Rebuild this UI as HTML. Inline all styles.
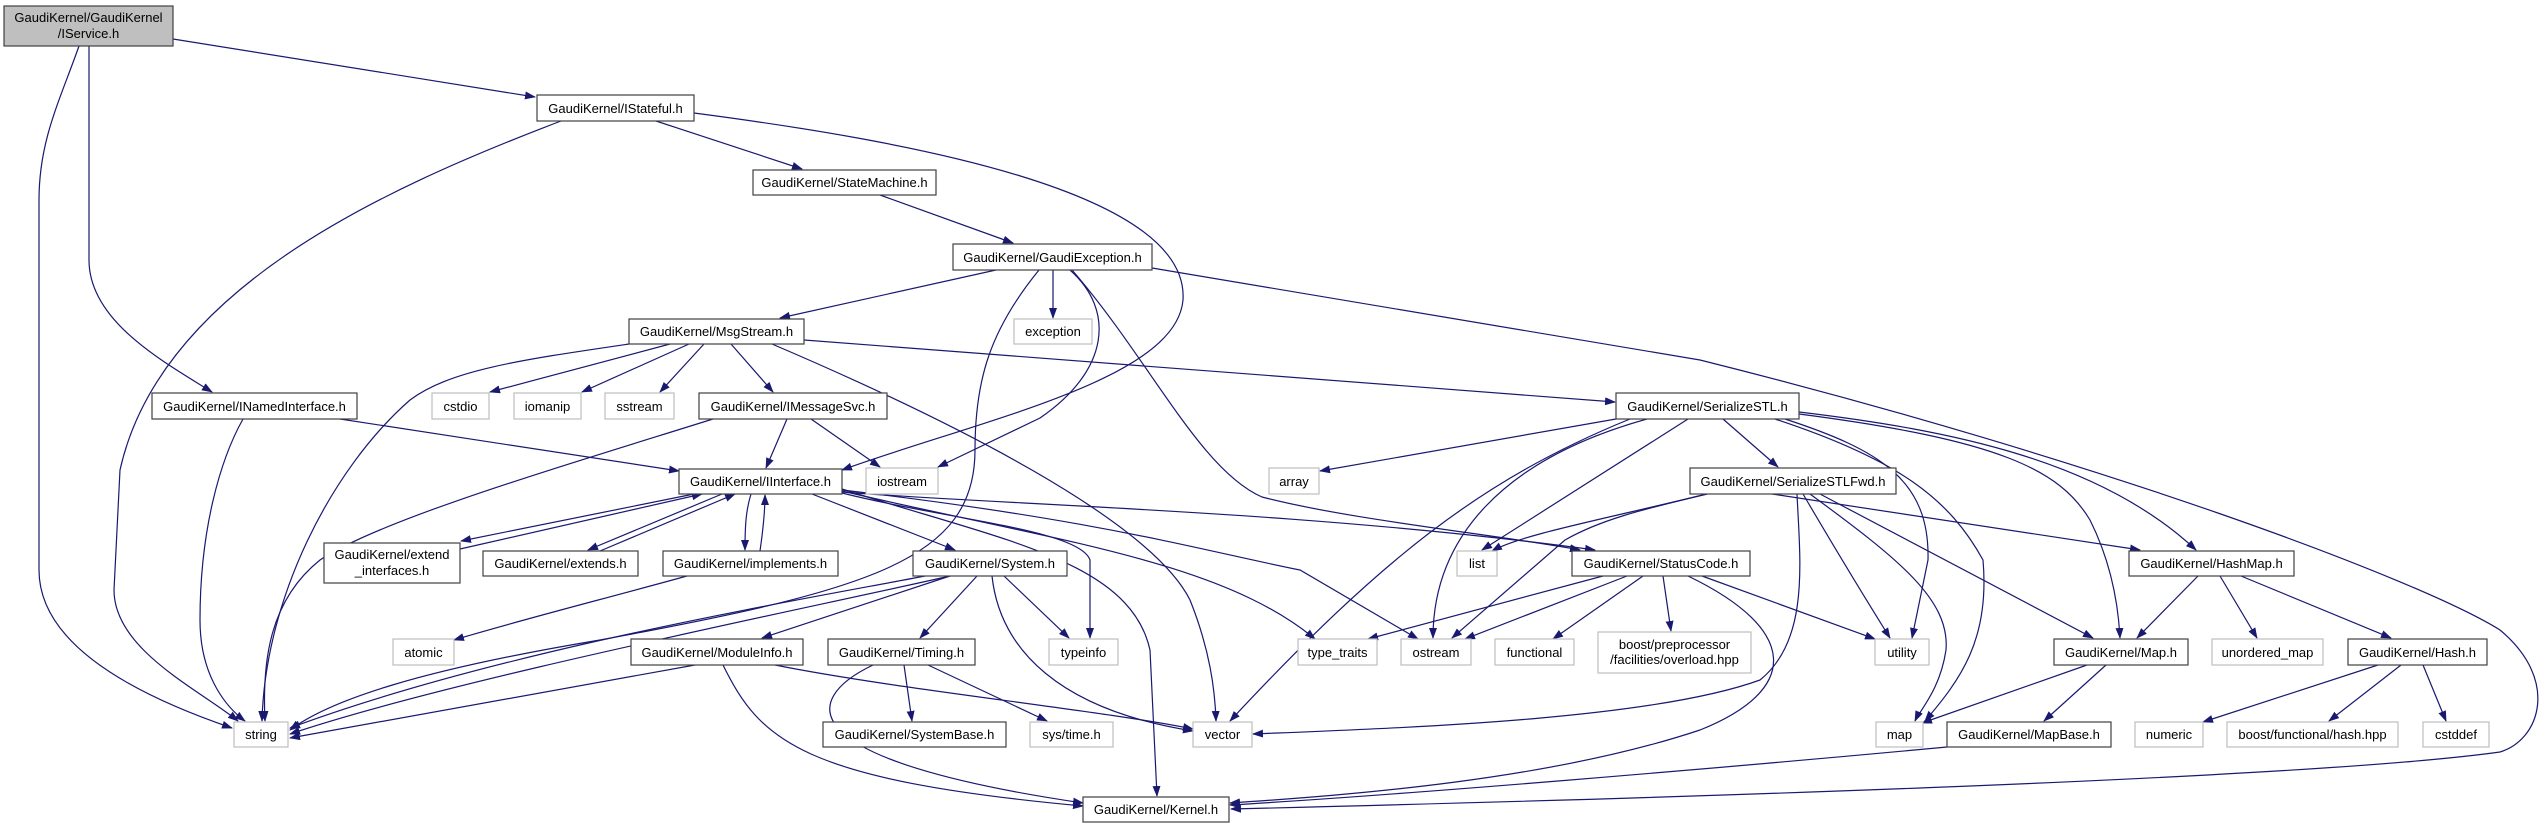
<!DOCTYPE html>
<html><head><meta charset="utf-8"><style>
html,body{margin:0;padding:0;background:#fff;}
svg{display:block;}
text{font-family:"Liberation Sans",sans-serif;font-size:13px;fill:#000;text-anchor:middle;}
.n{fill:#fff;stroke:#404040;stroke-width:1.2;}
.x{fill:#fff;stroke:#bfbfbf;stroke-width:1.2;}
.e{fill:none;stroke:#191970;stroke-width:1.2;}
</style></head><body>
<svg width="2542" height="828" viewBox="0 0 2542 828" xmlns="http://www.w3.org/2000/svg">
<defs><marker id="a" markerUnits="userSpaceOnUse" markerWidth="11" markerHeight="8" refX="10" refY="4" orient="auto"><path d="M0,0 L11,4 L0,8 z" fill="#191970"/></marker></defs>
<g class="e" marker-end="url(#a)">
<path d="M173,39 L535,97"/>
<path d="M89,46 L89,260 C89,320 160,360 212,392"/>
<path d="M79,46 C60,100 39,140 39,200 L39,570 C39,650 150,700 232,728"/>
<path d="M561,121 C380,190 160,290 120,470 L114,590 C114,650 200,690 238,721"/>
<path d="M656,121 L802,169"/>
<path d="M694,113 C900,140 1190,190 1183,300 C1176,380 980,420 842,470"/>
<path d="M880,195 L1013,243"/>
<path d="M996,270 L780,318"/>
<path d="M1053,270 L1053,318"/>
<path d="M1070,270 C1115,310 1110,370 1040,418 L938,467"/>
<path d="M1039,270 C990,330 975,380 975,450 C975,560 870,590 600,640 C420,670 330,700 290,730"/>
<path d="M1072,270 C1150,360 1200,470 1262,497 C1350,520 1500,535 1580,550"/>
<path d="M1152,268 L1700,360 C2100,460 2420,580 2500,630 C2560,680 2540,740 2500,752 C2300,780 1600,800 1231,809"/>
<path d="M629,344 C520,360 450,370 410,400 C330,470 265,600 262,721"/>
<path d="M670,344 L490,392"/>
<path d="M689,344 L582,392"/>
<path d="M704,344 L660,392"/>
<path d="M731,344 L773,392"/>
<path d="M772,344 C950,420 1150,520 1190,600 C1210,650 1215,690 1216,721"/>
<path d="M804,340 L1615,402"/>
<path d="M713,419 C550,470 380,520 320,560 C270,600 262,660 265,721"/>
<path d="M787,419 L766,468"/>
<path d="M811,419 L880,467"/>
<path d="M243,419 C220,460 200,530 200,620 C200,680 230,710 245,721"/>
<path d="M340,419 L679,471"/>
<path d="M694,494 L461,541"/>
<path d="M460,549 L702,494"/>
<path d="M722,494 L588,550"/>
<path d="M600,551 L735,494"/>
<path d="M751,494 C746,510 745,525 745,550"/>
<path d="M760,551 C763,530 765,510 765,495"/>
<path d="M687,576 C600,600 520,620 454,640"/>
<path d="M812,494 L955,550"/>
<path d="M842,493 C950,520 1080,530 1090,560 L1090,638"/>
<path d="M842,491 C1050,540 1220,560 1315,639"/>
<path d="M842,490 C1100,520 1200,550 1300,570 L1418,639"/>
<path d="M842,489 C1000,540 1130,560 1150,650 L1157,796"/>
<path d="M842,492 C1000,505 1300,510 1595,550"/>
<path d="M925,576 C800,600 500,650 290,728"/>
<path d="M950,576 C800,610 450,680 290,734"/>
<path d="M950,576 L762,638"/>
<path d="M977,576 L920,638"/>
<path d="M1004,576 L1069,638"/>
<path d="M992,576 C1000,650 1060,710 1193,731"/>
<path d="M695,665 L290,738"/>
<path d="M723,665 C760,740 800,780 1083,806"/>
<path d="M775,665 C900,690 1100,710 1193,729"/>
<path d="M873,665 C800,700 790,760 1083,803"/>
<path d="M904,665 L912,721"/>
<path d="M928,665 L1047,721"/>
<path d="M1616,419 L1320,471"/>
<path d="M1723,419 L1778,467"/>
<path d="M1688,419 L1482,550"/>
<path d="M1647,419 C1500,460 1433,540 1433,638"/>
<path d="M1630,419 C1480,480 1380,560 1230,721"/>
<path d="M1785,419 C1880,450 1930,480 1928,560 L1912,638"/>
<path d="M1775,419 C1900,460 1950,500 1983,560 C1990,640 1960,680 1925,721"/>
<path d="M1799,414 C2000,440 2060,470 2090,520 C2110,560 2118,600 2120,638"/>
<path d="M1799,412 C1950,430 2100,460 2196,550"/>
<path d="M1707,494 C1600,520 1520,535 1492,551"/>
<path d="M1707,494 C1640,510 1600,520 1565,540 L1452,638"/>
<path d="M1797,494 C1800,560 1810,640 1760,680 C1650,720 1400,728 1253,734"/>
<path d="M1803,494 C1830,540 1860,590 1890,638"/>
<path d="M1810,494 C1900,560 1950,600 1946,650 C1940,690 1920,710 1915,721"/>
<path d="M1820,494 L2093,638"/>
<path d="M1772,494 L2140,550"/>
<path d="M1603,576 L1368,639"/>
<path d="M1627,576 L1465,639"/>
<path d="M1643,576 L1553,639"/>
<path d="M1663,576 L1671,631"/>
<path d="M1702,576 L1875,639"/>
<path d="M1688,576 C1800,630 1800,690 1700,730 C1550,780 1350,795 1230,803"/>
<path d="M2198,576 L2137,638"/>
<path d="M2220,576 L2257,638"/>
<path d="M2241,576 L2391,638"/>
<path d="M2087,665 L1922,723"/>
<path d="M2106,665 L2044,721"/>
<path d="M1947,747 C1700,770 1400,795 1230,805"/>
<path d="M2378,665 L2203,722"/>
<path d="M2401,665 L2329,721"/>
<path d="M2423,665 L2446,721"/>
</g>
<rect x="4" y="6" width="169" height="40" style="fill:#bfbfbf;stroke:#404040;stroke-width:1.2"/>
<text x="88.5" y="22">GaudiKernel/GaudiKernel</text><text x="88.5" y="38">/IService.h</text>
<rect class="n" x="537" y="95" width="157" height="26"/><text x="615.5" y="113">GaudiKernel/IStateful.h</text>
<rect class="n" x="753" y="170" width="183" height="25"/><text x="844.5" y="187">GaudiKernel/StateMachine.h</text>
<rect class="n" x="953" y="244" width="199" height="26"/><text x="1052.5" y="262">GaudiKernel/GaudiException.h</text>
<rect class="n" x="629" y="319" width="175" height="25"/><text x="716.5" y="336">GaudiKernel/MsgStream.h</text>
<rect class="x" x="1014" y="319" width="78" height="25"/><text x="1053" y="336">exception</text>
<rect class="n" x="152" y="393" width="205" height="26"/><text x="254.5" y="411">GaudiKernel/INamedInterface.h</text>
<rect class="x" x="432" y="393" width="57" height="26"/><text x="460.5" y="411">cstdio</text>
<rect class="x" x="514" y="393" width="67" height="26"/><text x="547.5" y="411">iomanip</text>
<rect class="x" x="605" y="393" width="69" height="26"/><text x="639.5" y="411">sstream</text>
<rect class="n" x="699" y="393" width="188" height="26"/><text x="793" y="411">GaudiKernel/IMessageSvc.h</text>
<rect class="n" x="1616" y="393" width="183" height="26"/><text x="1707.5" y="411">GaudiKernel/SerializeSTL.h</text>
<rect class="n" x="679" y="469" width="163" height="25"/><text x="760.5" y="486">GaudiKernel/IInterface.h</text>
<rect class="x" x="866" y="468" width="72" height="26"/><text x="902" y="486">iostream</text>
<rect class="x" x="1269" y="468" width="50" height="26"/><text x="1294" y="486">array</text>
<rect class="n" x="1690" y="468" width="206" height="26"/><text x="1793" y="486">GaudiKernel/SerializeSTLFwd.h</text>
<rect class="n" x="324" y="543" width="136" height="40"/><text x="392" y="559">GaudiKernel/extend</text><text x="392" y="575">_interfaces.h</text>
<rect class="n" x="483" y="551" width="155" height="25"/><text x="560.5" y="568">GaudiKernel/extends.h</text>
<rect class="n" x="663" y="551" width="175" height="25"/><text x="750.5" y="568">GaudiKernel/implements.h</text>
<rect class="n" x="913" y="551" width="154" height="25"/><text x="990" y="568">GaudiKernel/System.h</text>
<rect class="x" x="1457" y="551" width="40" height="25"/><text x="1477" y="568">list</text>
<rect class="n" x="1572" y="551" width="178" height="25"/><text x="1661" y="568">GaudiKernel/StatusCode.h</text>
<rect class="n" x="2129" y="551" width="165" height="25"/><text x="2211.5" y="568">GaudiKernel/HashMap.h</text>
<rect class="x" x="393" y="639" width="61" height="26"/><text x="423.5" y="657">atomic</text>
<rect class="n" x="631" y="639" width="172" height="26"/><text x="717" y="657">GaudiKernel/ModuleInfo.h</text>
<rect class="n" x="828" y="639" width="147" height="26"/><text x="901.5" y="657">GaudiKernel/Timing.h</text>
<rect class="x" x="1049" y="639" width="69" height="26"/><text x="1083.5" y="657">typeinfo</text>
<rect class="x" x="1298" y="639" width="79" height="26"/><text x="1337.5" y="657">type_traits</text>
<rect class="x" x="1401" y="639" width="70" height="26"/><text x="1436" y="657">ostream</text>
<rect class="x" x="1495" y="639" width="79" height="26"/><text x="1534.5" y="657">functional</text>
<rect class="x" x="1598" y="632" width="153" height="41"/><text x="1674.5" y="649">boost/preprocessor</text><text x="1674.5" y="664">/facilities/overload.hpp</text>
<rect class="x" x="1875" y="639" width="54" height="26"/><text x="1902" y="657">utility</text>
<rect class="n" x="2054" y="639" width="134" height="26"/><text x="2121" y="657">GaudiKernel/Map.h</text>
<rect class="x" x="2212" y="639" width="111" height="26"/><text x="2267.5" y="657">unordered_map</text>
<rect class="n" x="2348" y="639" width="139" height="26"/><text x="2417.5" y="657">GaudiKernel/Hash.h</text>
<rect class="x" x="234" y="722" width="54" height="25"/><text x="261" y="739">string</text>
<rect class="n" x="823" y="722" width="183" height="25"/><text x="914.5" y="739">GaudiKernel/SystemBase.h</text>
<rect class="x" x="1030" y="722" width="83" height="25"/><text x="1071.5" y="739">sys/time.h</text>
<rect class="x" x="1193" y="722" width="59" height="25"/><text x="1222.5" y="739">vector</text>
<rect class="x" x="1876" y="722" width="47" height="25"/><text x="1899.5" y="739">map</text>
<rect class="n" x="1947" y="722" width="164" height="25"/><text x="2029" y="739">GaudiKernel/MapBase.h</text>
<rect class="x" x="2135" y="722" width="68" height="25"/><text x="2169" y="739">numeric</text>
<rect class="x" x="2227" y="722" width="171" height="25"/><text x="2312.5" y="739">boost/functional/hash.hpp</text>
<rect class="x" x="2423" y="722" width="66" height="25"/><text x="2456" y="739">cstddef</text>
<rect class="n" x="1083" y="797" width="146" height="25"/><text x="1156" y="814">GaudiKernel/Kernel.h</text>
</svg>
</body></html>
